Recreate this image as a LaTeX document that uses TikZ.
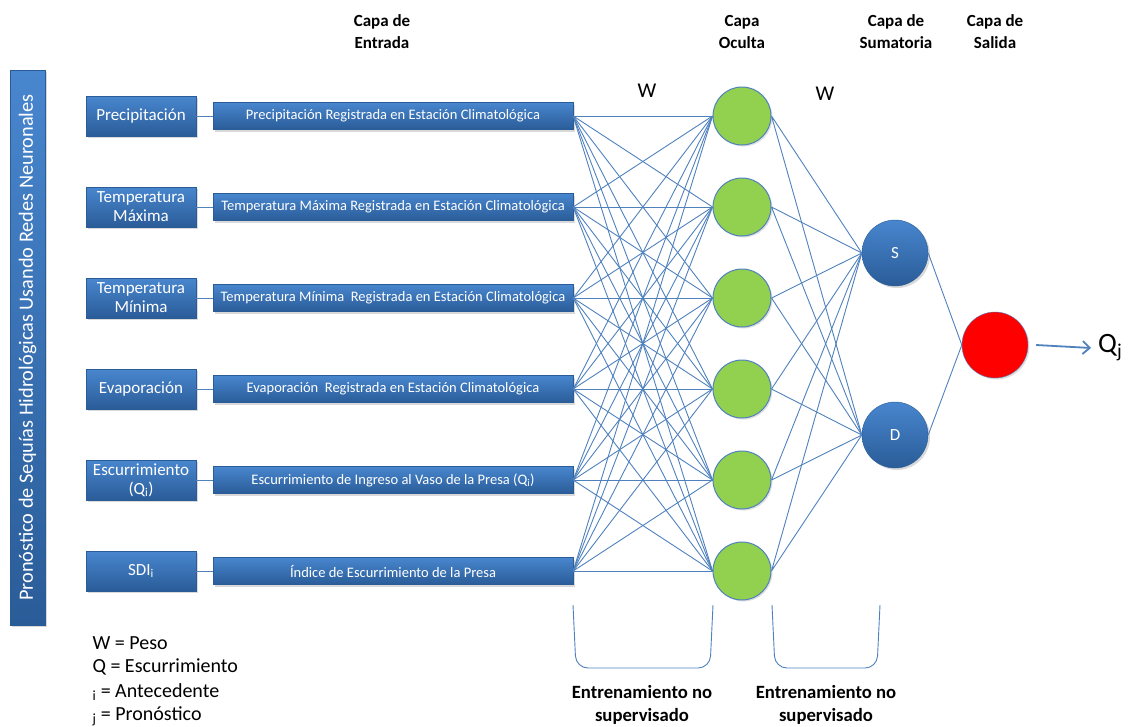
\documentclass[tikz,border=0pt]{standalone}
\usepackage{fontspec}
\setmainfont{Carlito}
\usetikzlibrary{shadows,arrows.meta}
\definecolor{wireblue}{RGB}{79,129,189}
\definecolor{boxtop}{RGB}{72,134,206}
\definecolor{boxbot}{RGB}{42,92,152}
\definecolor{neurongreen}{RGB}{146,208,80}
\tikzset{
  bluebox/.style={draw=boxbot, top color=boxtop, bottom color=boxbot, text=white, align=center, inner sep=2pt,
    drop shadow={opacity=.3, shadow xshift=2pt, shadow yshift=-2pt}},
  inbox/.style={bluebox, minimum width=110pt, minimum height=40pt, font=\fontsize{17}{19}\selectfont},
  longbox/.style={bluebox, minimum width=360pt, minimum height=27pt, font=\fontsize{14.5}{16}\selectfont},
  hidden/.style={circle, draw=wireblue, line width=1pt, fill=neurongreen, minimum size=58pt,
    drop shadow={opacity=.25, shadow xshift=1.5pt, shadow yshift=-1.5pt}},
  sumnode/.style={circle, bluebox, minimum size=66pt, font=\fontsize{17}{19}\selectfont},
  outnode/.style={circle, draw=wireblue, fill=red, minimum size=66pt,
    drop shadow={opacity=.25, shadow xshift=1.5pt, shadow yshift=-1.5pt}},
  wire/.style={draw=wireblue, line width=.9pt},
  header/.style={align=center, font=\bfseries\fontsize{17}{22}\selectfont},
  trainlabel/.style={align=center, font=\bfseries\fontsize{18.7}{23}\selectfont},
  legend/.style={anchor=west, font=\fontsize{20}{22}\selectfont},
}
\begin{document}
\begin{tikzpicture}[x=1pt,y=-1pt]
\useasboundingbox (0,0) rectangle (1133,726);
% titulo y capas
\node[bluebox, rotate=90, minimum width=555pt, minimum height=35pt, font=\fontsize{20.3}{22}\selectfont] (title) at (27.5,347.5) {Pronóstico de Sequías Hidrológicas Usando Redes Neuronales};
\node[header] (hin) at (382,32) {Capa de\\Entrada};
\node[header] (hhid) at (742,32) {Capa\\Oculta};
\node[header] (hsum) at (896,32) {Capa de\\Sumatoria};
\node[header] (hout) at (995,32) {Capa de\\Salida};
% entradas
\node[inbox] (in1) at (141,116) {Precipitación};
\node[inbox] (in2) at (141,207) {Temperatura\\Máxima};
\node[inbox] (in3) at (141,298) {Temperatura\\Mínima};
\node[inbox] (in4) at (141,389) {Evaporación};
\node[inbox] (in5) at (141,480) {Escurrimiento\\(Q\textsubscript{i})};
\node[inbox] (in6) at (141,571) {SDI\textsubscript{i}};
\node[longbox] (lg1) at (393,116) {Precipitación Registrada en Estación Climatológica};
\node[longbox] (lg2) at (393,207) {Temperatura\ Máxima Registrada en Estación Climatológica};
\node[longbox] (lg3) at (393,298) {Temperatura Mínima\ \ Registrada en Estación Climatológica};
\node[longbox] (lg4) at (393,389) {Evaporación\ \ Registrada en Estación Climatológica};
\node[longbox] (lg5) at (393,480) {Escurrimiento de Ingreso al Vaso de la Presa (Q\textsubscript{i})};
\node[longbox] (lg6) at (393,571) {Índice de Escurrimiento de la Presa};
% neuronas
\node[hidden] (h1) at (742,116) {};
\node[hidden] (h2) at (742,207) {};
\node[hidden] (h3) at (742,298) {};
\node[hidden] (h4) at (742,389) {};
\node[hidden] (h5) at (742,480) {};
\node[hidden] (h6) at (742,571) {};
\node[sumnode] (sum) at (895,253) {S};
\node[sumnode] (dif) at (895,435) {D};
\node[outnode] (out) at (995,345) {};
\node[font=\fontsize{28}{30}\selectfont, anchor=west, inner sep=1pt] (qj) at (1097,348) {Q\textsubscript{j}};
\node[font=\fontsize{21}{22}\selectfont] (w1) at (647,91) {W};
\node[font=\fontsize{21}{22}\selectfont] (w2) at (825,94) {W};
% conexiones
\foreach \i in {1,...,6} \draw[wire] (in\i) -- (lg\i);
\foreach \i in {1,...,6} \foreach \j in {1,...,6} \draw[wire] (lg\i.east) -- (h\j.west);
\foreach \j in {1,...,6} \draw[wire] (h\j.east) -- (sum.west) (h\j.east) -- (dif.west);
\draw[wire] (sum.east) -- (out.west) (dif.east) -- (out.west);
\draw[wire, line width=1.8pt, -{Straight Barb[length=7pt,width=13pt]}] ([xshift=8pt]out.east) -- ([xshift=-6pt]qj.west);
% entrenamiento
\draw[wire, rounded corners=12pt] (573,605) -- (576,668) -- (710,668) -- (713,605);
\draw[wire, rounded corners=12pt] (772,605) -- (775,668) -- (877,668) -- (880,605);
\node[trainlabel] (tr1) at (642,705) {Entrenamiento no\\supervisado};
\node[trainlabel] (tr2) at (826,705) {Entrenamiento no\\supervisado};
% leyenda
\node[legend] (lw) at (89,643) {W = Peso};
\node[legend] (lq) at (89,667) {Q = Escurrimiento};
\node[legend] (li) at (89,692) {\textsubscript{i} = Antecedente};
\node[legend] (lj) at (89,716) {\textsubscript{j} = Pronóstico};
\end{tikzpicture}
\end{document}
